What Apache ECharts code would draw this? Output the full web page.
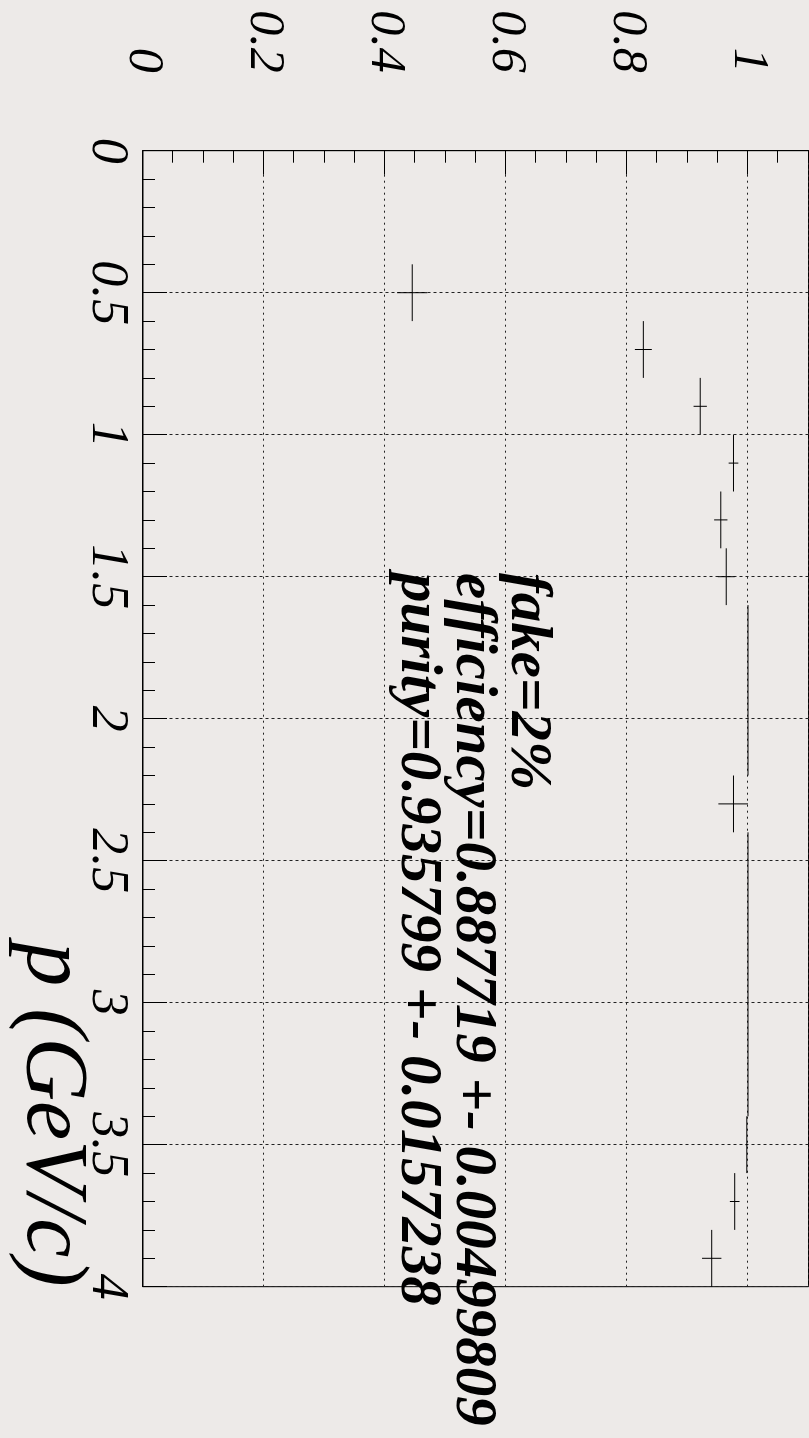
<!DOCTYPE html>
<html><head><meta charset="utf-8">
<script src="https://cdn.jsdelivr.net/npm/echarts@6/dist/echarts.min.js"></script>
<style>
html,body{margin:0;padding:0;width:809px;height:1438px;overflow:hidden;background:#edeae8;}
#chart{position:absolute;left:0;top:0;width:1438px;height:809px;transform-origin:0 0;transform:translateX(809px) rotate(90deg);}
</style></head><body><div id="chart"></div>
<script>
// momentum bin centres (GeV/c) and half widths
const pCenters    = [0.5, 0.7, 0.9, 1.1, 1.3, 1.5, 1.7, 1.9, 2.1, 2.3, 2.5, 2.7, 2.9, 3.1, 3.3, 3.5, 3.7, 3.9];
const pHalfWidths = [0.1, 0.1, 0.1, 0.1, 0.1, 0.1, 0.1, 0.1, 0.1, 0.1, 0.1, 0.1, 0.1, 0.1, 0.1, 0.1, 0.1, 0.1];
// efficiency per bin with asymmetric errors
const effValues   = [0.445, 0.827, 0.921, 0.976, 0.955, 0.964, 1, 1, 1, 0.976, 1, 1, 1, 1, 1, 0.998, 0.978, 0.940];
const effErrLow   = [0.025, 0.014, 0.011, 0.008, 0.011, 0.014, 0, 0, 0, 0.025, 0, 0, 0, 0, 0, 0.002, 0.008, 0.016];
const effErrHigh  = [0.025, 0.014, 0.011, 0.008, 0.011, 0.014, 0, 0, 0, 0.024, 0, 0, 0, 0, 0, 0.002, 0.008, 0.016];
// annotation text
const statLines = ['fake=2%', 'efficiency=0.887719 +- 0.00499809', 'purity=0.935799 +- 0.0157238'];
const xTitle = 'p (GeV/c)';

const FONT = '"Liberation Serif", "Times New Roman", serif';
const data = pCenters.map((p, i) => [p, effValues[i], pHalfWidths[i], effErrLow[i], effErrHigh[i]]);

const chart = echarts.init(document.getElementById('chart'), null, {renderer: 'canvas'});
const statBaselines = [302, 357, 412];
const statSize = 59;
const titleSize = 88;
const titleBaseline = 788;
chart.setOption({
  backgroundColor: '#edeae8',
  animation: false,
  grid: {left: 150.7, right: 151.3, top: 0.5, bottom: 143, containLabel: false, outerBoundsMode: 'none',
         show: true, borderColor: '#000', borderWidth: 1, backgroundColor: 'transparent'},
  xAxis: [{
    type: 'value', min: 0, max: 4, interval: 0.5, position: 'bottom',
    axisLine: {show: true, onZero: false, lineStyle: {color: '#000', width: 1}},
    axisTick: {show: true, inside: true, length: 24, lineStyle: {color: '#000'}},
    minorTick: {show: true, splitNumber: 5, length: 12, lineStyle: {color: '#000'}},
    axisLabel: {margin: 10, fontSize: 52, fontFamily: FONT, fontStyle: 'italic', color: '#000'},
    splitLine: {show: true, lineStyle: {color: '#222', width: 1, type: [3, 3]}}
  }],
  yAxis: [{
    type: 'value', min: 0, max: 1.1, interval: 0.2,
    axisLine: {show: true, onZero: false, lineStyle: {color: '#000', width: 1}},
    axisTick: {show: true, inside: true, length: 24, lineStyle: {color: '#000'}},
    axisLabel: {margin: 78, fontSize: 50, fontFamily: FONT, fontStyle: 'italic', color: '#000', showMaxLabel: false},
    splitLine: {show: true, lineStyle: {color: '#222', width: 1, type: [2, 4]}}
  }, {
    type: 'value', min: 0, max: 1.1, interval: 0.05, position: 'left', offset: 0,
    axisLine: {show: false},
    axisTick: {show: true, inside: true, length: 12, lineStyle: {color: '#000'}},
    axisLabel: {show: false},
    splitLine: {show: false}
  }],
  series: [{
    type: 'custom', xAxisIndex: 0, yAxisIndex: 0, data: data,
    encode: {x: 0, y: 1},
    renderItem: function (params, api) {
      const p = api.value(0), e = api.value(1), dp = api.value(2), lo = api.value(3), hi = api.value(4);
      const a = api.coord([p - dp, e]), b = api.coord([p + dp, e]);
      const children = [{type: 'line', shape: {x1: a[0], y1: a[1], x2: b[0], y2: b[1]}, style: {stroke: '#000', lineWidth: 1}}];
      if (lo + hi > 0) {
        const c = api.coord([p, e - lo]), d = api.coord([p, e + hi]);
        children.push({type: 'line', shape: {x1: c[0], y1: c[1], x2: d[0], y2: d[1]}, style: {stroke: '#000', lineWidth: 1}});
      }
      return {type: 'group', children: children};
    }
  }]
});
// axis title, right-aligned at the end of the p axis
const pEnd = chart.convertToPixel({xAxisIndex: 0}, 4);
const graphics = statLines.map((t, i) => ({
  type: 'text', x: 573, y: statBaselines[i] - 0.34 * statSize,
  style: {text: t, font: 'italic bold ' + statSize + 'px ' + FONT, fill: '#000', align: 'left', verticalAlign: 'middle'}
}));
graphics.push({
  type: 'text', x: pEnd, y: titleBaseline - 0.34 * titleSize,
  style: {text: xTitle, font: 'italic ' + titleSize + 'px ' + FONT, fill: '#000', align: 'right', verticalAlign: 'middle'}
});
chart.setOption({graphic: graphics});
</script></body></html>
